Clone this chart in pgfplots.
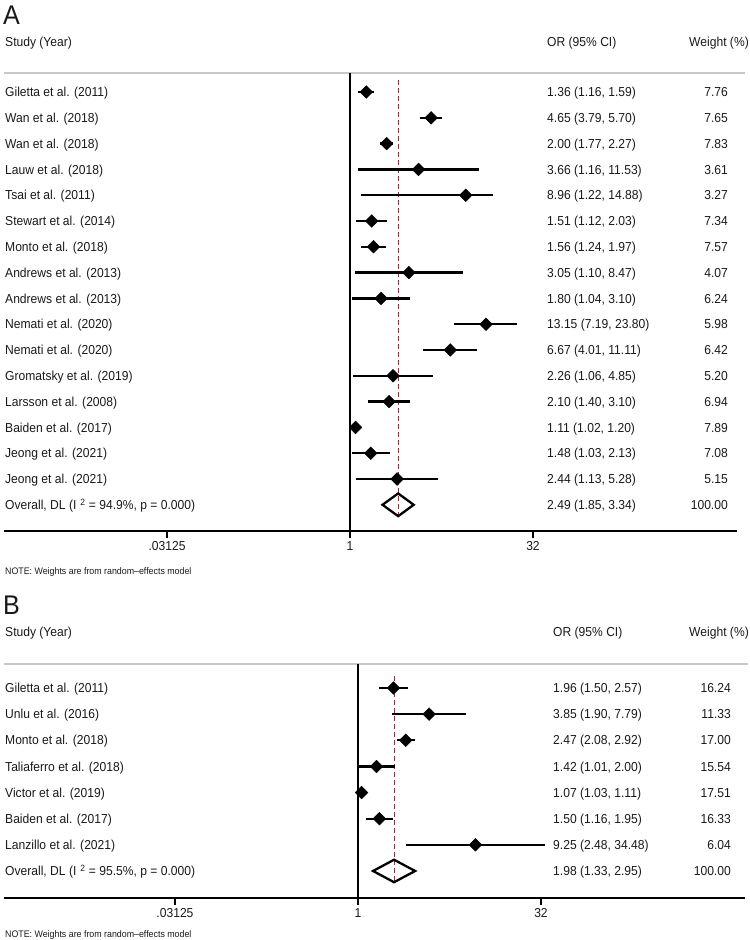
\documentclass[border=0pt]{standalone}
\usepackage{pgfplots}
\pgfplotsset{compat=1.18}
\usepackage{fontspec}
\setmainfont[FakeStretch=0.93]{Liberation Sans}
\definecolor{refred}{RGB}{178,34,52}
\definecolor{hdrgray}{RGB}{200,200,200}
\definecolor{txt}{RGB}{25,25,25}
\newcommand{\rowfont}{\fontsize{13bp}{15bp}\selectfont}
\newcommand{\notefont}{\fontsize{9.5bp}{11bp}\selectfont}

\tikzset{
  lt/.style={anchor=base west, inner sep=0, font=\rowfont, text=txt},
  rt/.style={anchor=base east, inner sep=0, font=\rowfont, text=txt},
}
\pgfplotsset{
  cistyle/.style={black, line width=2.3bp, unbounded coords=jump},
  eststyle/.style={only marks, mark=square*, mark size=4.5bp,
    mark options={rotate=45, fill=black, draw=black}},
}

\begin{document}
\begin{tikzpicture}
\path[use as bounding box] (0,0) rectangle (750bp,-940bp);

% ---------------- Panel A ----------------
\node[anchor=west, inner sep=0, font=\fontsize{27bp}{29bp}\selectfont, text=txt] at (3bp,-15bp) {A};
\node[lt] at (5bp,-46.7bp) {Study (Year)};
\node[lt] at (547bp,-46.7bp) {OR (95\% CI)};
\node[rt] at (749bp,-46.7bp) {Weight (\%)};
\draw[hdrgray, line width=2bp] (4bp,-73bp) -- (745bp,-73bp);

\begin{axis}[
  xmode=log, log basis x=2,
  at={(4bp,-531bp)}, anchor=south west,
  scale only axis, width=733bp, height=458bp,
  xmin=0.0014257, xmax=1524.3,
  ymin=0.2636, ymax=18.016, y dir=reverse,
  axis x line=bottom, axis y line=none,
  x axis line style={-, line width=1.3bp},
  xtick={0.03125,1,32}, xticklabels={.03125,1,32},
  minor xtick={},
  xtick align=outside, major tick length=7bp,
  every tick/.style={black, line width=1.3bp},
  xticklabel style={font=\rowfont, text=txt},
  clip=false,
]
\addplot[black, line width=1.3bp] coordinates {(1,0.2636) (1,18.016)};
\addplot[refred, line width=1bp, dash pattern=on 5bp off 3bp] coordinates {(2.49,0.55) (2.49,17.45)};
\addplot[cistyle] coordinates {
  (1.16,1) (1.59,1) (nan,nan)
  (3.79,2) (5.70,2) (nan,nan)
  (1.77,3) (2.27,3) (nan,nan)
  (1.16,4) (11.53,4) (nan,nan)
  (1.22,5) (14.88,5) (nan,nan)
  (1.12,6) (2.03,6) (nan,nan)
  (1.24,7) (1.97,7) (nan,nan)
  (1.10,8) (8.47,8) (nan,nan)
  (1.04,9) (3.10,9) (nan,nan)
  (7.19,10) (23.80,10) (nan,nan)
  (4.01,11) (11.11,11) (nan,nan)
  (1.06,12) (4.85,12) (nan,nan)
  (1.40,13) (3.10,13) (nan,nan)
  (1.02,14) (1.20,14) (nan,nan)
  (1.03,15) (2.13,15) (nan,nan)
  (1.13,16) (5.28,16)
};
\addplot[eststyle] coordinates {
  (1.36,1) (4.65,2) (2.00,3) (3.66,4) (8.96,5) (1.51,6) (1.56,7) (3.05,8)
  (1.80,9) (13.15,10) (6.67,11) (2.26,12) (2.10,13) (1.11,14) (1.48,15) (2.44,16)
};
\addplot[black, line width=2.3bp, line join=miter] coordinates {
  (1.85,17) (2.49,16.56) (3.34,17) (2.49,17.44)
} -- cycle;
\end{axis}

\foreach \n/\o/\w [count=\i] in {
  {Giletta et al. (2011)}/{1.36 (1.16, 1.59)}/7.76,
  {Wan et al. (2018)}/{4.65 (3.79, 5.70)}/7.65,
  {Wan et al. (2018)}/{2.00 (1.77, 2.27)}/7.83,
  {Lauw et al. (2018)}/{3.66 (1.16, 11.53)}/3.61,
  {Tsai et al. (2011)}/{8.96 (1.22, 14.88)}/3.27,
  {Stewart et al. (2014)}/{1.51 (1.12, 2.03)}/7.34,
  {Monto et al. (2018)}/{1.56 (1.24, 1.97)}/7.57,
  {Andrews et al. (2013)}/{3.05 (1.10, 8.47)}/4.07,
  {Andrews et al. (2013)}/{1.80 (1.04, 3.10)}/6.24,
  {Nemati et al. (2020)}/{13.15 (7.19, 23.80)}/5.98,
  {Nemati et al. (2020)}/{6.67 (4.01, 11.11)}/6.42,
  {Gromatsky et al. (2019)}/{2.26 (1.06, 4.85)}/5.20,
  {Larsson et al. (2008)}/{2.10 (1.40, 3.10)}/6.94,
  {Baiden et al. (2017)}/{1.11 (1.02, 1.20)}/7.89,
  {Jeong et al. (2021)}/{1.48 (1.03, 2.13)}/7.08,
  {Jeong et al. (2021)}/{2.44 (1.13, 5.28)}/5.15} {
  \pgfmathsetmacro\yy{-(92+(\i-1)*25.8)-4.7}
  \node[lt] at (5bp,\yy bp) {\n};
  \node[lt] at (547bp,\yy bp) {\o};
  \node[rt] at (728bp,\yy bp) {\w};
}
\node[lt] at (5bp,-509.5bp) {Overall, DL (I\hspace{4bp}\textsuperscript{2} = 94.9\%, p = 0.000)};
\node[lt] at (547bp,-509.5bp) {2.49 (1.85, 3.34)};
\node[rt] at (728bp,-509.5bp) {100.00};
\node[anchor=west, inner sep=0, font=\notefont, text=txt] at (5bp,-572bp) {NOTE: Weights are from random--effects model};

% ---------------- Panel B ----------------
\node[anchor=west, inner sep=0, font=\fontsize{27bp}{29bp}\selectfont, text=txt] at (3bp,-605bp) {B};
\node[lt] at (5bp,-636.7bp) {Study (Year)};
\node[lt] at (553bp,-636.7bp) {OR (95\% CI)};
\node[rt] at (749bp,-636.7bp) {Weight (\%)};
\draw[hdrgray, line width=2bp] (4bp,-664bp) -- (748bp,-664bp);

\begin{axis}[
  xmode=log, log basis x=2,
  at={(4bp,-898bp)}, anchor=south west,
  scale only axis, width=741bp, height=234bp,
  xmin=0.0012260, xmax=1524.3,
  ymin=0.0818, ymax=9.034, y dir=reverse,
  axis x line=bottom, axis y line=none,
  x axis line style={-, line width=1.3bp},
  xtick={0.03125,1,32}, xticklabels={.03125,1,32},
  minor xtick={},
  xtick align=outside, major tick length=7bp,
  every tick/.style={black, line width=1.3bp},
  xticklabel style={font=\rowfont, text=txt},
  clip=false,
]
\addplot[black, line width=1.3bp] coordinates {(1,0.0818) (1,9.034)};
\addplot[refred, line width=1bp, dash pattern=on 5bp off 3bp] coordinates {(1.98,0.55) (1.98,8.43)};
\addplot[cistyle] coordinates {
  (1.50,1) (2.57,1) (nan,nan)
  (1.90,2) (7.79,2) (nan,nan)
  (2.08,3) (2.92,3) (nan,nan)
  (1.01,4) (2.00,4) (nan,nan)
  (1.03,5) (1.11,5) (nan,nan)
  (1.16,6) (1.95,6) (nan,nan)
  (2.48,7) (34.48,7)
};
\addplot[eststyle] coordinates {
  (1.96,1) (3.85,2) (2.47,3) (1.42,4) (1.07,5) (1.50,6) (9.25,7)
};
\addplot[black, line width=2.3bp, line join=miter] coordinates {
  (1.33,8) (1.98,7.57) (2.95,8) (1.98,8.43)
} -- cycle;
\end{axis}

\foreach \n/\o/\w [count=\i] in {
  {Giletta et al. (2011)}/{1.96 (1.50, 2.57)}/16.24,
  {Unlu et al. (2016)}/{3.85 (1.90, 7.79)}/11.33,
  {Monto et al. (2018)}/{2.47 (2.08, 2.92)}/17.00,
  {Taliaferro et al. (2018)}/{1.42 (1.01, 2.00)}/15.54,
  {Victor et al. (2019)}/{1.07 (1.03, 1.11)}/17.51,
  {Baiden et al. (2017)}/{1.50 (1.16, 1.95)}/16.33,
  {Lanzillo et al. (2021)}/{9.25 (2.48, 34.48)}/6.04} {
  \pgfmathsetmacro\yy{-(688+(\i-1)*26.14)-4.7}
  \node[lt] at (5bp,\yy bp) {\n};
  \node[lt] at (553bp,\yy bp) {\o};
  \node[rt] at (731bp,\yy bp) {\w};
}
\node[lt] at (5bp,-875.7bp) {Overall, DL (I\hspace{4bp}\textsuperscript{2} = 95.5\%, p = 0.000)};
\node[lt] at (553bp,-875.7bp) {1.98 (1.33, 2.95)};
\node[rt] at (731bp,-875.7bp) {100.00};
\node[anchor=west, inner sep=0, font=\notefont, text=txt] at (5bp,-935bp) {NOTE: Weights are from random--effects model};
\end{tikzpicture}
\end{document}
